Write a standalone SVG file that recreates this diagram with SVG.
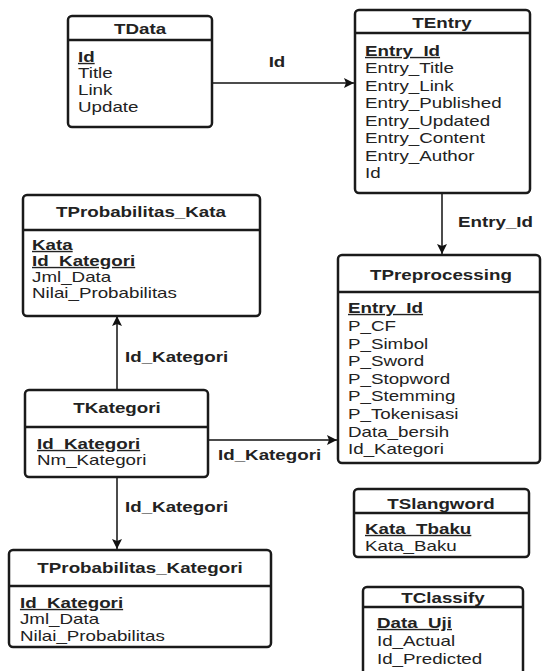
<svg xmlns="http://www.w3.org/2000/svg" width="542" height="671" viewBox="0 0 542 671">
<style>
.box{fill:#fff;stroke:#1a1a1a;stroke-width:2.5}
.sep{stroke:#1a1a1a;stroke-width:2.5}
.h{font-family:"Liberation Sans",Arial,sans-serif;font-size:14px;font-weight:bold;fill:#222;text-anchor:middle}
.f{font-family:"Liberation Sans",Arial,sans-serif;font-size:14px;fill:#222}
.k{text-decoration:underline;font-weight:bold}
.lbl{font-family:"Liberation Sans",Arial,sans-serif;font-size:14px;font-weight:bold;fill:#222}
.c{stroke:#111;stroke-width:1.5;fill:none;marker-end:url(#ah)}
</style>
<defs>
<marker id="ah" viewBox="0 0 10 10" refX="10" refY="5" markerWidth="10" markerHeight="10" markerUnits="userSpaceOnUse" orient="auto">
<path d="M0,0 L10,5 L0,10 L2,5 Z" fill="#111"/>
</marker>
</defs>
<rect width="542" height="671" fill="#fff"/>

<g id="connectors">
<line class="c" x1="212" y1="83" x2="354" y2="83"/>
<line class="c" x1="442" y1="193" x2="442" y2="254"/>
<line class="c" x1="117" y1="390" x2="117" y2="316"/>
<line class="c" x1="208" y1="440" x2="337" y2="440"/>
<line class="c" x1="117" y1="477" x2="117" y2="549"/>
<g transform="scale(1.34,1)">
<text class="lbl" x="206.7" y="67" text-anchor="middle">Id</text>
<text class="lbl" x="341.8" y="227">Entry_Id</text>
<text class="lbl" x="93.3" y="362">Id_Kategori</text>
<text class="lbl" x="162.7" y="460">Id_Kategori</text>
<text class="lbl" x="93.3" y="512">Id_Kategori</text>
</g>
</g>

<g id="TData">
<rect class="box" x="68" y="16" width="144" height="111" rx="4"/>
<line class="sep" x1="68" y1="40" x2="212" y2="40"/>
<g transform="scale(1.34,1)">
<text class="h" x="104.5" y="34">TData</text>
<text class="f k" x="58.2" y="62">Id</text>
<text class="f" x="58.2" y="78">Title</text>
<text class="f" x="58.2" y="95">Link</text>
<text class="f" x="58.2" y="112">Update</text>
</g>
</g>

<g id="TEntry">
<rect class="box" x="355" y="10" width="175" height="183" rx="4"/>
<line class="sep" x1="355" y1="33" x2="530" y2="33"/>
<g transform="scale(1.34,1)">
<text class="h" x="329.9" y="28">TEntry</text>
<text class="f k" x="272.4" y="56">Entry_Id</text>
<text class="f" x="272.4" y="73.5">Entry_Title</text>
<text class="f" x="272.4" y="91">Entry_Link</text>
<text class="f" x="272.4" y="108.5">Entry_Published</text>
<text class="f" x="272.4" y="126">Entry_Updated</text>
<text class="f" x="272.4" y="143.5">Entry_Content</text>
<text class="f" x="272.4" y="161">Entry_Author</text>
<text class="f" x="272.4" y="178.5">Id</text>
</g>
</g>

<g id="TProbabilitas_Kata">
<rect class="box" x="23" y="195" width="237" height="121" rx="4"/>
<line class="sep" x1="23" y1="230" x2="260" y2="230"/>
<g transform="scale(1.34,1)">
<text class="h" x="105.2" y="217">TProbabilitas_Kata</text>
<text class="f k" x="23.9" y="250">Kata</text>
<text class="f k" x="23.9" y="266">Id_Kategori</text>
<text class="f" x="23.9" y="282">Jml_Data</text>
<text class="f" x="23.9" y="298">Nilai_Probabilitas</text>
</g>
</g>

<g id="TPreprocessing">
<rect class="box" x="338" y="255" width="202" height="208" rx="4"/>
<line class="sep" x1="338" y1="292" x2="540" y2="292"/>
<g transform="scale(1.34,1)">
<text class="h" x="329.1" y="280">TPreprocessing</text>
<text class="f k" x="259.7" y="313">Entry_Id</text>
<text class="f" x="259.7" y="331">P_CF</text>
<text class="f" x="259.7" y="349">P_Simbol</text>
<text class="f" x="259.7" y="366.5">P_Sword</text>
<text class="f" x="259.7" y="384">P_Stopword</text>
<text class="f" x="259.7" y="401.5">P_Stemming</text>
<text class="f" x="259.7" y="419">P_Tokenisasi</text>
<text class="f" x="259.7" y="437">Data_bersih</text>
<text class="f" x="259.7" y="454">Id_Kategori</text>
</g>
</g>

<g id="TKategori">
<rect class="box" x="25" y="390" width="183" height="87" rx="4"/>
<line class="sep" x1="25" y1="427" x2="208" y2="427"/>
<g transform="scale(1.34,1)">
<text class="h" x="87.3" y="413">TKategori</text>
<text class="f k" x="27.6" y="449">Id_Kategori</text>
<text class="f" x="27.6" y="465">Nm_Kategori</text>
</g>
</g>

<g id="TProbabilitas_Kategori">
<rect class="box" x="9" y="550" width="262" height="97" rx="4"/>
<line class="sep" x1="9" y1="586" x2="271" y2="586"/>
<g transform="scale(1.34,1)">
<text class="h" x="104.5" y="573">TProbabilitas_Kategori</text>
<text class="f k" x="14.9" y="608">Id_Kategori</text>
<text class="f" x="14.9" y="624.5">Jml_Data</text>
<text class="f" x="14.9" y="641">Nilai_Probabilitas</text>
</g>
</g>

<g id="TSlangword">
<rect class="box" x="354" y="489" width="175" height="68" rx="4"/>
<line class="sep" x1="354" y1="513" x2="529" y2="513"/>
<g transform="scale(1.34,1)">
<text class="h" x="329.1" y="509">TSlangword</text>
<text class="f k" x="272.4" y="534">Kata_Tbaku</text>
<text class="f" x="272.4" y="551">Kata_Baku</text>
</g>
</g>

<g id="TClassify">
<rect class="box" x="363" y="587" width="160" height="100" rx="4"/>
<line class="sep" x1="363" y1="607" x2="523" y2="607"/>
<g transform="scale(1.34,1)">
<text class="h" x="330.6" y="603">TClassify</text>
<text class="f k" x="281.3" y="628">Data_Uji</text>
<text class="f" x="281.3" y="646">Id_Actual</text>
<text class="f" x="281.3" y="664">Id_Predicted</text>
</g>
</g>
</svg>
